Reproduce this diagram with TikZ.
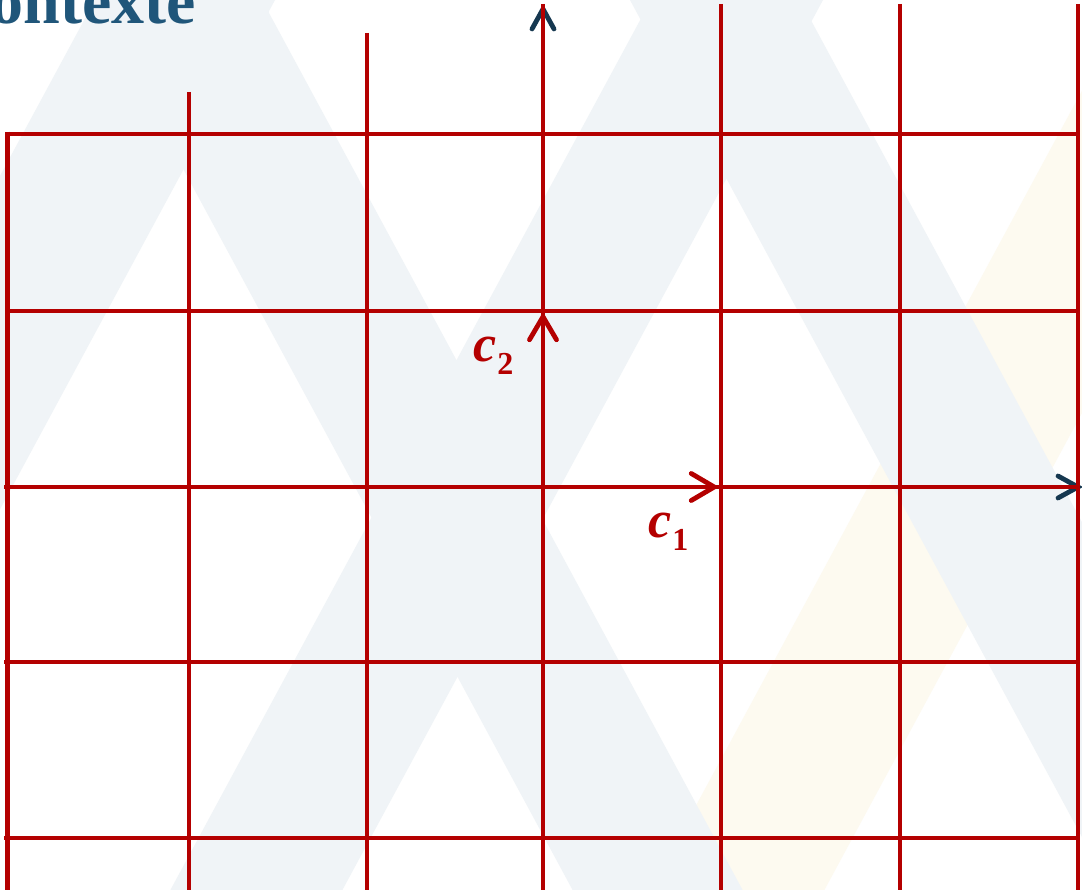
\documentclass[tikz,border=0pt]{standalone}
\usepackage{fontspec}
\setmainfont{Liberation Serif}
\usetikzlibrary{arrows.meta}
\definecolor{gridred}{RGB}{180,0,0}
\definecolor{axisblue}{RGB}{22,56,80}
\definecolor{titleblue}{RGB}{32,86,122}
\definecolor{bandblue}{RGB}{240,244,247}
\definecolor{bandyellow}{RGB}{253,250,240}
\newcommand\veclab[2]{{\fontsize{52}{52}\selectfont\bfseries\itshape #1}\kern1pt\raisebox{-13pt}{\fontsize{32}{32}\selectfont\bfseries #2}}
\begin{document}
\begin{tikzpicture}[x=1pt,y=-1pt,
  gridline/.style={draw=gridred, line width=4.8pt},
  axisarrow/.style={draw=axisblue, line width=4.8pt, -{Straight Barb[length=20pt,width=22pt,line cap=round]}},
  vecarrow/.style={draw=gridred, line width=4.8pt, -{Straight Barb[length=23pt,width=27pt,line cap=round]}},
  bandB/.style={fill=bandblue},
  bandY/.style={fill=bandyellow},
  veclabel/.style={text=gridred, inner sep=0pt, anchor=base west},
  titletext/.style={text=titleblue, inner sep=0pt, anchor=base east, font=\fontsize{66}{66}\selectfont\bfseries}]
\useasboundingbox (0,0) rectangle (1082,890);
\clip (0,0) rectangle (1082,890);
\fill[white] (0,0) rectangle (1082,890);
% background bands (slope 0.54)
\fill[bandY] (1131+108,-200) -- (1305+108,-200) -- (1305-594,1100) -- (1131-594,1100) -- cycle;
\fill[bandB] (95+108,-200) -- (275+108,-200) -- (275-594,1100) -- (95-594,1100) -- cycle;
\fill[bandB] (651+108,-200) -- (823+108,-200) -- (823-594,1100) -- (651-594,1100) -- cycle;
\fill[bandB] (92-108,-200) -- (262-108,-200) -- (262+594,1100) -- (92+594,1100) -- cycle;
\fill[bandB] (630-108,-200) -- (800-108,-200) -- (800+594,1100) -- (630+594,1100) -- cycle;
% title
\node[titletext] (title) at (196,24) {Contexte};
% coordinates
\coordinate (O) at (543,487);
\coordinate (yend) at (543,4);
\coordinate (xend) at (1083,487);
\coordinate (c1end) at (719,487);
\coordinate (c2end) at (543,312);
% axes (under the grid)
\draw[axisarrow] (O) -- (yend);
\draw[axisarrow] (O) -- (xend);
% grid
\foreach \x/\t [count=\i] in {7.5/131.6, 189/92, 367/33, 543/4, 721/4, 900/4, 1078/4} {
  \coordinate (vt\i) at (\x,\t);
  \coordinate (vb\i) at (\x,892);
  \draw[gridline] (vt\i) -- (vb\i);
}
\foreach \y/\l [count=\j] in {134/5.1, 311/5.5, 487/4, 662/4, 838/4} {
  \coordinate (hl\j) at (\l,\y);
  \coordinate (hr\j) at (1080.4,\y);
  \draw[gridline] (hl\j) -- (hr\j);
}
% basis vectors
\draw[vecarrow] (O) -- (c1end);
\draw[vecarrow] (O) -- (c2end);
\node[veclabel] (c1lab) at (648,537) {\veclab{c}{1}};
\node[veclabel] (c2lab) at (473,362) {\veclab{c}{2}};
\end{tikzpicture}
\end{document}
